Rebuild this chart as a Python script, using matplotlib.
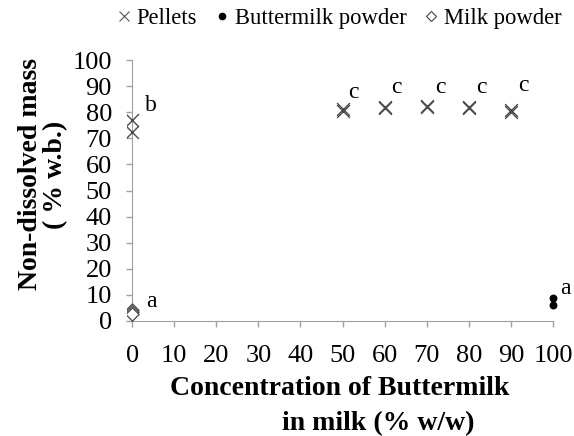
import matplotlib
matplotlib.use("Agg")
import matplotlib.pyplot as plt
from matplotlib.lines import Line2D

plt.rcParams['font.family'] = ['Liberation Serif', 'DejaVu Serif']

# data
pellet_x = [0, 0, 50, 50, 60, 60, 70, 70, 80, 80, 90, 90]
pellet_y = [77, 72.5, 80.5, 81.2, 81.5, 82, 82.2, 82.6, 81.6, 82.2, 80.3, 80.9]
butter_x = [100, 100]
butter_y = [8.8, 6.0]
milk_x = [0, 0, 0]
milk_y = [4.2, 3.4, 2.8]
letters = ["b", "a", "c", "c", "c", "c", "c", "a"]
letter_x = [4.5, 4.5, 52.5, 62.7, 73.2, 82.9, 92.9, 103]
letter_y = [82.5, 7.5, 87.7, 89.7, 89.7, 89.7, 90.4, 12.6]

fig = plt.figure(figsize=(5.74, 4.36), dpi=100)
ax = fig.add_axes([0.2213, 0.264, 0.742, 0.598])

ax.scatter(pellet_x, pellet_y, marker='x', s=85, color='#4a4a4a', linewidths=1.0, zorder=3)
ax.scatter(butter_x, butter_y, marker='o', s=22, color='black', zorder=3, clip_on=False)
ax.scatter(milk_x, milk_y, marker='D', s=45, facecolors='white', edgecolors='#444444', linewidths=0.9, zorder=3)

for t, x, y in zip(letters, letter_x, letter_y):
    ax.text(x, y, t, fontsize=17, ha='center', va='center')

ax.set_xlim(-1.2, 100)
ax.set_ylim(0, 100)
ax.set_xticks(range(0, 101, 10))
ax.set_yticks(range(0, 101, 10))
ax.spines['left'].set_position(('data', 0))
for s in ['top', 'right']:
    ax.spines[s].set_visible(False)
for s in ['left', 'bottom']:
    ax.spines[s].set_color('#a0a0a0')
ax.tick_params(colors='#a0a0a0', labelcolor='black', labelsize=19, length=4, width=1)
ax.tick_params(axis='y', pad=10.5)
ax.tick_params(axis='x', pad=13)

fig.text(0.054, 0.60, "Non-dissolved mass", rotation=90, ha='center', va='center',
         fontsize=20, fontweight='bold')
fig.text(0.097, 0.60, "( % w.b.)", rotation=90, ha='center', va='center',
         fontsize=20, fontweight='bold')
fig.text(0.296, 0.108, "Concentration of Buttermilk", ha='left', va='center', fontsize=20, fontweight='bold')
fig.text(0.491, 0.028, "in milk (% w/w)", ha='left', va='center', fontsize=20, fontweight='bold')

handles = [
    Line2D([], [], marker='x', ls='none', color='#555555', markersize=7, markeredgewidth=0.8),
    Line2D([], [], marker='o', ls='none', color='black', markersize=4.5),
    Line2D([], [], marker='D', ls='none', markerfacecolor='white', markeredgecolor='#444444', markersize=5.5, markeredgewidth=0.8),
]
fig.legend(handles, ["Pellets", "Buttermilk powder", "Milk powder"], loc='center left',
           bbox_to_anchor=(0.203, 0.957), ncol=3, frameon=False, fontsize=16.3,
           handlelength=0.7, handletextpad=0.2, columnspacing=0.75, borderpad=0, borderaxespad=0)

fig.savefig("out.png", dpi=100)
